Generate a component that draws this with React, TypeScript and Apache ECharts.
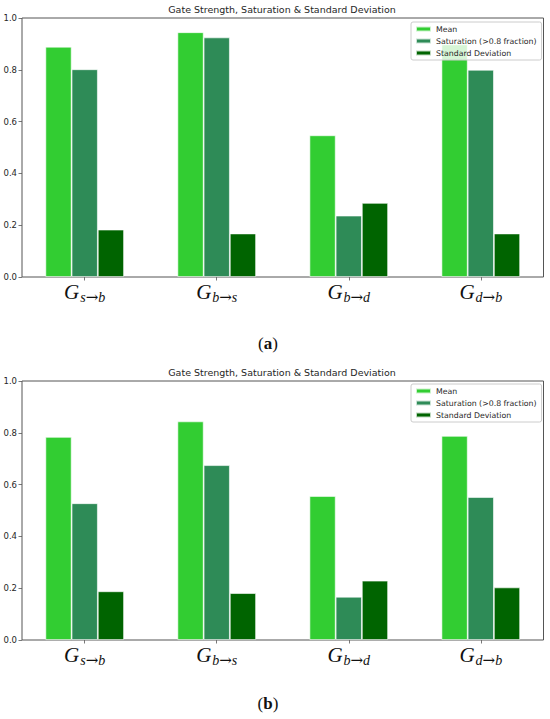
import React, { useEffect, useRef } from "react";
import * as echarts from "echarts";

const categories = ["s→b", "b→s", "b→d", "d→b"];
const seriesNames = ["Mean", "Saturation (>0.8 fraction)", "Standard Deviation"];
const colors = ["#32CD32", "#2E8B57", "#006400"];

const meanA = [0.889, 0.945, 0.547, 0.898];
const satA = [0.802, 0.925, 0.237, 0.8];
const stdA = [0.183, 0.168, 0.286, 0.168];

const meanB = [0.784, 0.844, 0.556, 0.788];
const satB = [0.528, 0.675, 0.167, 0.552];
const stdB = [0.188, 0.181, 0.229, 0.203];

const yTicks = [0, 0.2, 0.4, 0.6, 0.8, 1.0];
const chartTitle = "Gate Strength, Saturation & Standard Deviation";
const captions = ["a", "b"];

const FONT = "DejaVu Sans";
const TEXT = "#262626";
const FRAME = "#555";

export default function App() {
  const ref = useRef<HTMLDivElement>(null);
  useEffect(() => {
    if (!ref.current) return;
    const chart = echarts.init(ref.current, null, { renderer: "svg" });
    const grids = [
      { left: 22, right: 6.5, top: 18, height: 259 },
      { left: 22, right: 6.5, top: 381, height: 259 },
    ];
    const idx = categories.map((_, i) => i);
    const data = [
      [meanA, satA, stdA],
      [meanB, satB, stdB],
    ];
    const series: any[] = [];
    data.forEach((group, g) => {
      group.forEach((vals, s) => {
        series.push({
          type: "bar",
          name: seriesNames[s],
          xAxisIndex: g,
          yAxisIndex: g,
          barWidth: 26.2,
          barGap: "0%",
          itemStyle: {
            color: colors[s],
            borderColor: "rgba(255,255,255,0.75)",
            borderWidth: 0.8,
          },
          data: vals.map((v, i) => [idx[i], v]),
        });
      });
    });
    const xAxis = grids.map((_, g) => ({
      type: "value",
      gridIndex: g,
      min: -0.475,
      max: 3.475,
      splitLine: { show: false },
      axisLine: { show: false, onZero: false },
      axisTick: {
        show: true,
        customValues: idx,
        length: 3.5,
        lineStyle: { color: FRAME, width: 0.8 },
      },
      axisLabel: {
        customValues: idx,
        margin: 3,
        formatter: (v: number) => {
          const c = categories[Math.round(v)];
          if (c === undefined) return "";
          const [a, b] = c.split("→");
          return `{g|G}{s|${a}}{a|→}{s|${b}}`;
        },
        rich: {
          g: {
            fontFamily: "Liberation Serif",
            fontStyle: "italic",
            fontSize: 21,
            color: "#111",
            lineHeight: 24,
            padding: [0, 1, 0, 0],
          },
          s: {
            fontFamily: "Liberation Serif",
            fontStyle: "italic",
            fontSize: 14,
            color: "#111",
            padding: [10, 0, 0, 0],
          },
          a: {
            fontFamily: "DejaVu Serif",
            fontSize: 15,
            color: "#111",
            padding: [9, 0, 0, 0],
          },
        },
      },
    }));
    const yAxis = grids.map((_, g) => ({
      type: "value",
      gridIndex: g,
      min: yTicks[0],
      max: yTicks[yTicks.length - 1],
      interval: 0.2,
      splitLine: { show: false },
      axisLine: { show: false, onZero: false },
      axisTick: { show: true, length: 3.5, lineStyle: { color: FRAME, width: 0.8 } },
      axisLabel: {
        fontFamily: FONT,
        fontSize: 8.5,
        color: TEXT,
        margin: 5,
        formatter: (v: number) => v.toFixed(1),
      },
    }));
    const legends = [22, 384].map((top) => ({
      data: seriesNames,
      orient: "vertical",
      left: 411,
      top,
      icon: "rect",
      itemWidth: 15,
      itemHeight: 5,
      itemGap: 2,
      padding: [2, 5, 2, 4],
      backgroundColor: "rgba(255,255,255,0.8)",
      borderColor: "#ccc",
      borderWidth: 1,
      borderRadius: 2,
      textStyle: { fontFamily: FONT, fontSize: 7.8, color: TEXT, lineHeight: 10 },
      selectedMode: false,
    }));
    const titles = [4.5, 367.5].map((top) => ({
      text: chartTitle,
      left: 282,
      top,
      textAlign: "center",
      padding: 0,
      textStyle: { fontFamily: FONT, fontSize: 9.5, fontWeight: "normal", color: TEXT },
    }));
    const graphic = [343, 703].map((y, i) => ({
      type: "text",
      x: 268,
      y,
      style: {
        text: `{p|(}{b|${captions[i]}}{p|)}`,
        align: "center",
        verticalAlign: "middle",
        rich: {
          p: { fontFamily: "Liberation Serif", fontSize: 17, fill: "#111" },
          b: { fontFamily: "Liberation Serif", fontSize: 17, fontWeight: "bold", fill: "#111" },
        },
      },
    }));
    chart.setOption({
      animation: false,
      backgroundColor: "#fff",
      title: titles,
      legend: legends,
      grid: grids.map((g) => ({ ...g, show: true, borderColor: FRAME, borderWidth: 1, backgroundColor: "transparent" })),
      xAxis,
      yAxis,
      series,
      graphic,
    });
    return () => chart.dispose();
  }, []);
  return <div ref={ref} style={{ position: "absolute", left: 0, top: 0, width: 550, height: 719 }} />;
}
